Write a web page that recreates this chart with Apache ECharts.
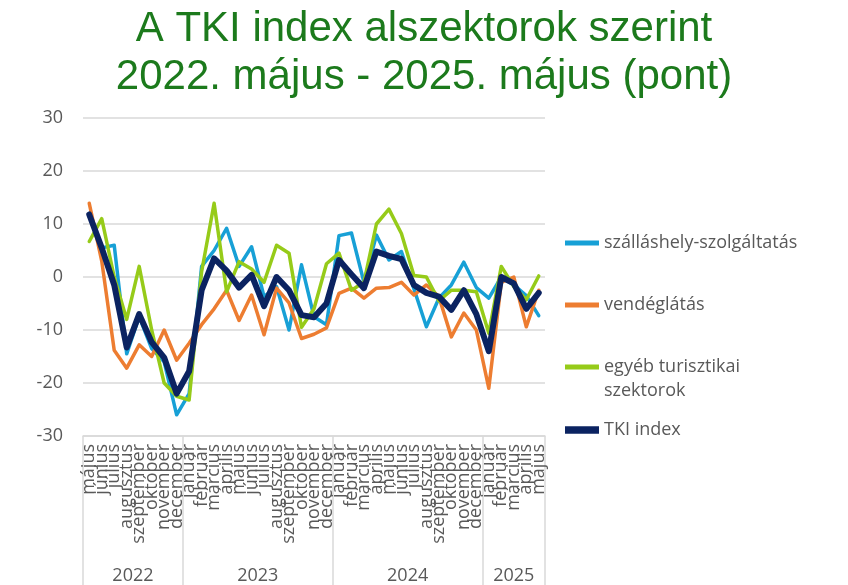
<!DOCTYPE html>
<html>
<head>
<meta charset="utf-8">
<script src="https://cdn.jsdelivr.net/npm/echarts@6/dist/echarts.min.js"></script>
<style>
html,body{margin:0;padding:0;background:#fff;}
#chart{width:848px;height:585px;}
</style>
</head>
<body>
<div id="chart"></div>
<script>
// ---- data ----
const titleText = 'A TKI index alszektorok szerint\n2022. május - 2025. május (pont)';
const years = ['2022', '2023', '2024', '2025'];
const months2022 = ['május','június','július','augusztus','szeptember','október','november','december'];
const months2023 = ['január','február','március','április','május','június','július','augusztus','szeptember','október','november','december'];
const months2024 = ['január','február','március','április','május','június','július','augusztus','szeptember','október','november','december'];
const months2025 = ['január','február','március','április','május'];
const monthGroups = [months2022, months2023, months2024, months2025];
const categories = [].concat(months2022, months2023, months2024, months2025);

const seriesNames = ['szálláshely-szolgáltatás', 'vendéglátás', 'egyéb turisztikai szektorok', 'TKI index'];

const szallashely = [
  11.5, 5.5, 6, -14.5, -7.5, -13.5, -16, -26,
  -22, 2, 5, 9.2, 2, 5.7, -3.7, -1.8, -10, 2.3, -7.5, -9,
  7.8, 8.3, -1, 7.9, 3.2, 4.8, -2.2, -9.4, -4, -1.5, 2.8, -2,
  -4, 0, -1.5, -3.5, -7.3
];
const vendeglatas = [
  13.9, 3, -13.8, -17.2, -12.8, -15, -10, -15.7,
  -12.5, -9, -6, -2.5, -8.2, -3.4, -10.9, -2.1, -4.9, -11.6, -10.8, -9.6,
  -3.1, -2.1, -4, -2.1, -2, -1, -3.4, -1.5, -3.7, -11.3, -6.8, -10,
  -21, -1, 0, -9.4, -2.5
];
const egyeb = [
  6.7, 11, 0, -8, 2, -10, -20, -22.5,
  -23.2, 1, 13.9, -2.8, 2.9, 1.5, -1, 6, 4.5, -9.5, -6, 2.5,
  4.5, -2.5, -1, 10, 12.8, 8.2, 0.3, 0, -4.5, -2.5, -2.5, -2.8,
  -10.6, 2, -1.8, -4.3, 0.2
];
const tkiIndex = [
  11.8, 5.5, -1.5, -13.3, -7, -12.3, -15.2, -22,
  -17.8, -2.5, 3.5, 1.2, -2, 0.4, -5.5, 0, -2.5, -7.2, -7.6, -5,
  3.2, 0.5, -2.1, 4.8, 4, 3.4, -1.5, -3, -3.7, -6.2, -2.5, -7,
  -14, 0, -1.2, -6, -3
];

// ---- styles ----
const colors = ['#17A0D6', '#ED7D31', '#96CB19', '#0B2361'];
const lineWidths = [3.5, 3.5, 3.5, 6];
const gray = '#595959';
const gridGray = '#D9D9D9';
const axisFont = 'Open Sans';

// year group boundaries and centres (in category units)
const boundaries = [];
const yearCenters = [];
let acc = 0;
monthGroups.forEach(function (g) {
  boundaries.push(acc);
  yearCenters.push(acc + g.length / 2);
  acc += g.length;
});

const chart = echarts.init(document.getElementById('chart'), null, {renderer: 'canvas'});

const seriesData = [szallashely, vendeglatas, egyeb, tkiIndex];

function legendFor(i, centerY, opts) {
  return Object.assign({
    data: [seriesNames[i]],
    left: 565,
    top: centerY - 9,
    padding: 0,
    orient: 'vertical',
    icon: 'rect',
    itemWidth: 34,
    itemHeight: lineWidths[i] + 1.5,
    selectedMode: false,
    textStyle: {fontFamily: axisFont, fontSize: 18, color: gray}
  }, opts || {});
}

const option = {
  animation: false,
  backgroundColor: '#fff',
  title: {
    text: titleText,
    left: 'center',
    top: 0,
    textStyle: {
      fontFamily: 'Liberation Sans',
      fontSize: 42,
      fontWeight: 'normal',
      lineHeight: 48,
      color: '#1C7A1C'
    }
  },
  legend: [
    legendFor(0, 243),
    legendFor(1, 305),
    legendFor(2, 367, {formatter: function () { return 'egyéb turisztikai'; }}),
    legendFor(2, 391, {icon: 'none', formatter: function () { return 'szektorok'; }}),
    legendFor(3, 430)
  ],
  grid: {left: 83, right: 303, top: 118, bottom: 149, containLabel: false},
  xAxis: [
    {
      type: 'category',
      data: categories,
      position: 'bottom',
      boundaryGap: true,
      axisLine: {show: true, onZero: false, lineStyle: {color: gridGray, width: 1.5}},
      axisTick: {
        show: true,
        inside: false,
        length: 150,
        lineStyle: {color: gridGray, width: 1.5},
        interval: function (index) { return boundaries.indexOf(index) >= 0; }
      },
      axisLabel: {
        interval: 0,
        rotate: 90,
        margin: 8,
        fontFamily: axisFont,
        fontSize: 18,
        color: gray
      },
      splitLine: {show: false}
    },
    {
      type: 'value',
      position: 'bottom',
      min: 0,
      max: categories.length,
      interval: 0.5,
      axisLine: {show: false, onZero: false},
      axisTick: {show: false},
      splitLine: {show: false},
      axisLabel: {
        margin: 131,
        fontFamily: axisFont,
        fontSize: 18,
        color: gray,
        showMinLabel: true,
        showMaxLabel: true,
        formatter: function (v) {
          for (let k = 0; k < yearCenters.length; k++) {
            if (Math.abs(v - yearCenters[k]) < 1e-6) return years[k];
          }
          return '';
        }
      }
    }
  ],
  yAxis: {
    type: 'value',
    min: -30,
    max: 30,
    interval: 10,
    axisLine: {show: false},
    axisTick: {show: false},
    axisLabel: {margin: 20, fontFamily: axisFont, fontSize: 18, color: gray},
    splitLine: {show: true, lineStyle: {color: gridGray, width: 1.5}}
  },
  series: seriesNames.map(function (name, i) {
    return {
      name: name,
      type: 'line',
      xAxisIndex: 0,
      data: seriesData[i],
      symbol: 'none',
      showSymbol: false,
      smooth: false,
      z: 2 + i,
      color: colors[i],
      lineStyle: {width: lineWidths[i], color: colors[i], join: 'round', cap: 'round'}
    };
  })
};

chart.setOption(option);
</script>
</body>
</html>
